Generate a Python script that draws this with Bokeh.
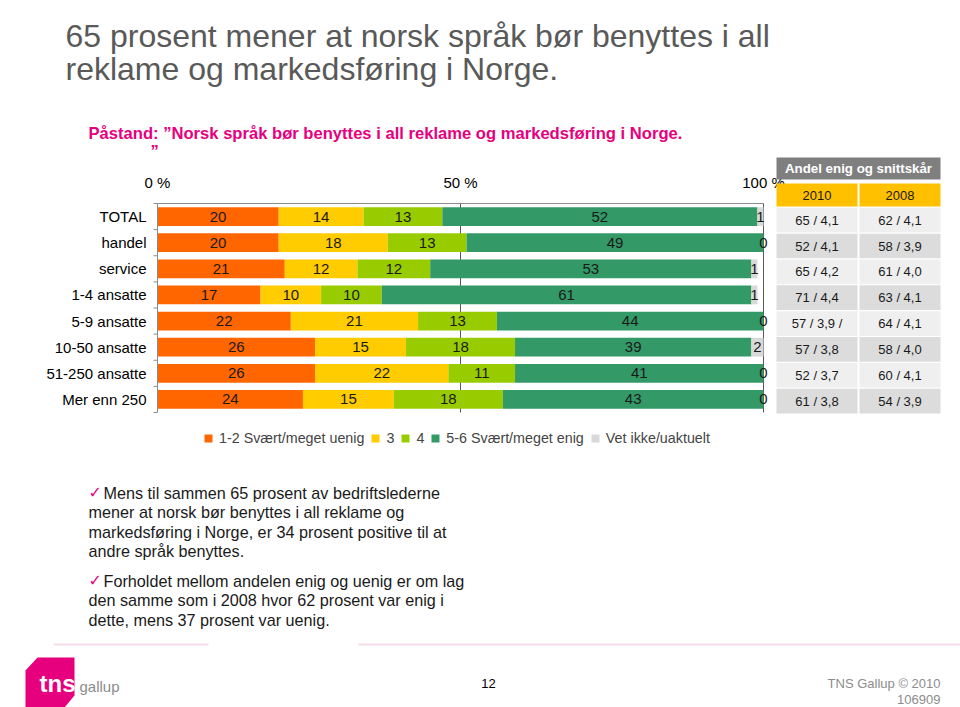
from bokeh.plotting import figure
from bokeh.models import (Range1d, Legend, LegendItem, Label, LabelSet, BoxAnnotation,
                          PolyAnnotation, ColumnDataSource)
from bokeh.core.properties import value
from bokeh.embed import file_html
from bokeh.resources import INLINE

# ---------------- data ----------------
categories = ["TOTAL", "handel", "service", "1-4 ansatte", "5-9 ansatte",
              "10-50 ansatte", "51-250 ansatte", "Mer enn 250"]
uenig = [20, 20, 21, 17, 22, 26, 26, 24]
tre = [14, 18, 12, 10, 21, 15, 22, 15]
fire = [13, 13, 12, 10, 13, 18, 11, 18]
enig = [52, 49, 53, 61, 44, 39, 41, 43]
vet_ikke = [1, 0, 1, 1, 0, 2, 0, 0]
series_names = ["1-2 Svært/meget uenig", "3", "4", "5-6 Svært/meget enig", "Vet ikke/uaktuelt"]
colors = ["#FF6600", "#FFCC00", "#99CC00", "#339966", "#D9D9D9"]
x_ticks = [0, 50, 100]
x_tick_labels = ["0 %", "50 %", "100 %"]
grid_ticks = [50, 100]
table_title = "Andel enig og snittskår"
table_years = ["2010", "2008"]
table_2010 = ["65 / 4,1", "52 / 4,1", "65 / 4,2", "71 / 4,4", "57 / 3,9 /",
              "57 / 3,8", "52 / 3,7", "61 / 3,8"]
table_2008 = ["62 / 4,1", "58 / 3,9", "61 / 4,0", "63 / 4,1", "64 / 4,1",
              "58 / 4,0", "60 / 4,1", "54 / 3,9"]

title_lines = ["65 prosent mener at norsk språk bør benyttes i all",
               "reklame og markedsføring i Norge."]
subtitle = "Påstand: \u201dNorsk språk bør benyttes i all reklame og markedsføring i Norge."
bullet_1 = ["Mens til sammen 65 prosent av bedriftslederne",
            "mener at norsk bør benyttes i all reklame og",
            "markedsføring i Norge, er 34 prosent positive til at",
            "andre språk benyttes."]
bullet_2 = ["Forholdet mellom andelen enig og uenig er om lag",
            "den samme som i 2008 hvor 62 prosent var enig i",
            "dette, mens 37 prosent var uenig."]

FONT = "Liberation Sans"
MAGENTA = "#E6007E"

W, H = 960, 707
# where the bar chart area lies on the canvas (px)
CL, CR, CT, CB = 157, 763, 203, 412
n = len(categories)
px_x = (CR - CL) / 100.0
px_y = (CB - CT) / n
x_range = Range1d(-CL / px_x, 100 + (W - CR) / px_x)
y_range = Range1d(n + (H - CB) / px_y, -CT / px_y)

p = figure(width=W, height=H, output_backend="svg", toolbar_location=None,
           x_range=x_range, y_range=y_range,
           x_axis_location=None, y_axis_location=None,
           min_border=0, min_border_left=0, min_border_right=0,
           min_border_top=0, min_border_bottom=0)
p.outline_line_color = None
p.background_fill_color = "white"
p.border_fill_color = "white"
p.xgrid.visible = False
p.ygrid.visible = False

ys = [i + 0.5 for i in range(n)]
bounds = list(range(n + 1))

# grid lines at 50 % and 100 %
p.segment(x0=grid_ticks, x1=grid_ticks, y0=[0] * len(grid_ticks), y1=[n] * len(grid_ticks),
          line_color="#595959", line_width=1)

keys = ["uenig", "tre", "fire", "enig", "vet"]
src = ColumnDataSource(dict(y=ys, uenig=uenig, tre=tre, fire=fire, enig=enig, vet=vet_ikke))
renderers = p.hbar_stack(keys, y="y", height=0.72, color=colors, source=src, line_width=0)

# axis lines (top and left), ticks between categories
p.segment(x0=[0, 0], y0=[0, 0], x1=[100, 0], y1=[0, n], line_color="#8C8C8C", line_width=1)
p.segment(x0=[0] * len(bounds), x1=[-4 / px_x] * len(bounds), y0=bounds, y1=bounds,
          line_color="#8C8C8C", line_width=1)

# tick labels
p.text(x=x_ticks, y=[0] * len(x_ticks), text=x_tick_labels, y_offset=-13,
       text_align="center", text_baseline="bottom", text_font=value(FONT),
       text_font_size="15px", text_color="#000000")
p.text(x=[0] * n, y=ys, text=categories, x_offset=-11, text_align="right",
       text_baseline="middle", text_font=value(FONT), text_font_size="15px",
       text_color="#000000")

# segment value labels
lx, ly, lt = [], [], []
for i in range(n):
    start = 0
    for arr in (uenig, tre, fire, enig, vet_ikke):
        v = arr[i]
        lx.append(start + v / 2)
        ly.append(ys[i])
        lt.append(str(v))
        start += v
lsrc = ColumnDataSource(dict(x=lx, y=ly, t=lt))
p.add_layout(LabelSet(x="x", y="y", text="t", source=lsrc, text_align="center",
                      text_baseline="middle", text_font=value(FONT), text_font_size="15px",
                      text_color="#1A1A1A"))

# legend
legend = Legend(items=[LegendItem(label=nm, renderers=[r]) for nm, r in zip(series_names, renderers)],
                orientation="horizontal", location=(203, H - 448), glyph_width=10, glyph_height=10,
                label_text_font_size="14.3px", label_text_font=FONT, label_standoff=6,
                spacing=6, padding=0, margin=0, background_fill_alpha=0,
                border_line_color=None, label_height=20, label_width=0)
p.add_layout(legend, "center")


def txt(x, y, s, size, color="#000000", align="left", style="normal", baseline="middle", font=FONT):
    p.add_layout(Label(x=x, y=y, x_units="canvas", y_units="canvas", text=s,
                       text_font=font, text_font_size=size, text_color=color,
                       text_align=align, text_baseline=baseline, text_font_style=style))


def box(l, r, t, b, color):
    p.add_layout(BoxAnnotation(left=l, right=r, top=t, bottom=b, left_units="canvas",
                               right_units="canvas", top_units="canvas", bottom_units="canvas",
                               fill_color=color, fill_alpha=1, line_color=None, level="annotation"))


# title
txt(65, 35, title_lines[0], "32px", "#595959")
txt(65, 68, title_lines[1], "32px", "#595959")
txt(88, 133, subtitle, "16.6px", MAGENTA, style="bold")
txt(150, 151, "\u201d", "16.6px", MAGENTA, style="bold")

# table
box(776, 940, 157, 179, "#7F7F7F")
txt(858, 168, table_title, "13.3px", "#FFFFFF", align="center", style="bold")
box(776, 857, 183, 206, "#FFC000")
box(859, 940, 183, 206, "#FFC000")
txt(816.5, 194.5, table_years[0], "13px", "#1A1A1A", align="center")
txt(899.5, 194.5, table_years[1], "13px", "#1A1A1A", align="center")
for k in range(len(table_2010)):
    top_y = 207.3 + 25.85 * k
    c = "#EFEFEF" if k % 2 == 0 else "#DCDCDC"
    box(776, 857, top_y, top_y + 24.7, c)
    box(859, 940, top_y, top_y + 24.7, c)
    txt(816.5, top_y + 12.35, table_2010[k], "13px", "#1A1A1A", align="center")
    txt(899.5, top_y + 12.35, table_2008[k], "13px", "#1A1A1A", align="center")

# bullets
for y0, lines in ((492, bullet_1), (580, bullet_2)):
    for j, line in enumerate(lines):
        if j == 0:
            txt(88, y0, "\u2713", "16px", MAGENTA, style="bold", font="DejaVu Sans")
            txt(103, y0, line, "16.2px", "#1A1A1A")
        else:
            txt(88, y0 + 19.6 * j, line, "16.2px", "#1A1A1A")

# footer lines
box(53, 208, 643, 645, "#F6DCEA")
box(358, 960, 643, 645, "#F6DCEA")

# logo
p.add_layout(PolyAnnotation(xs=[37, 74, 74, 64, 25, 25], ys=[657, 657, 695, 707, 707, 670],
                            xs_units="canvas", ys_units="canvas", fill_color=MAGENTA,
                            fill_alpha=1, line_color=None))
txt(39, 683, "tns", "24px", "#FFFFFF", style="bold")
txt(79, 686, "gallup", "15px", "#8C8C8C")

# footer texts
txt(488, 683, "12", "13px", "#000000", align="center")
txt(940, 683, "TNS Gallup \u00a9 2010", "13px", "#8C8C8C", align="right")
txt(940, 699, "106909", "13px", "#8C8C8C", align="right")

open("out.html", "w").write(file_html(p, INLINE))
